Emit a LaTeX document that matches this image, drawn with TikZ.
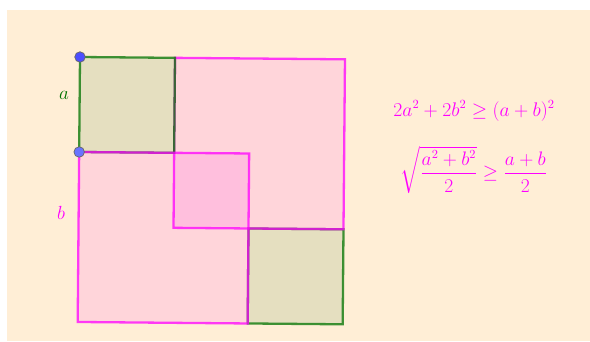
\documentclass[tikz,border=0pt]{standalone}
\usepackage{amsmath}
\usepackage{graphicx}
\definecolor{beige}{RGB}{255,238,214}
\definecolor{ggreen}{RGB}{0,100,0}
\definecolor{lgreen}{RGB}{0,115,0}
\definecolor{ptblue}{RGB}{77,77,255}
\definecolor{ptblueb}{RGB}{105,115,255}
\definecolor{mag}{RGB}{255,0,255}
\begin{document}
\begin{tikzpicture}[x=1pt,y=-1pt,
  pinksq/.style={fill=mag,fill opacity=0.1,draw=mag,draw opacity=0.75,line width=2.3pt},
  greensq/.style={fill=ggreen,fill opacity=0.1,draw=lgreen,draw opacity=0.75,line width=2.3pt},
  dot/.style={circle,fill=ptblue,draw=black!60,line width=0.7pt,inner sep=0pt,minimum size=10.5pt},
  lbl/.style={inner sep=0pt,font=\fontsize{17}{20}\selectfont},
  formula/.style={inner sep=0pt,text=mag,font=\fontsize{16}{19}\selectfont}]
\useasboundingbox (0,0) rectangle (590,341);
\fill[white] (0,0) rectangle (590,341);
\fill[beige] (7,10) rectangle (590,341);
\begin{scope}[shift={(80,57)},rotate=-0.5]
  \coordinate (O) at (0,0);
  \coordinate (A) at (0,95);
  \path[greensq] (170,170) rectangle (265,265);
  \path[pinksq] (95,0) rectangle (265,170);
  \path[greensq] (0,0) rectangle (95,95);
  \path[pinksq] (0,95) rectangle (170,265);
  \node[dot] (P1) at (O) {};
  \node[dot,fill=ptblueb] (P2) at (A) {};
\end{scope}
\node[lbl,text=lgreen] (la) at (64,95) {\scalebox{1.1}{$a$}};
\node[lbl,text=mag] (lb) at (61,213) {\scalebox{1.1}{$b$}};
\node[formula] (f1) at (474,111) {\scalebox{1.14}{$2a^2+2b^2\geq(a+b)^2$}};
\node[formula] (f2) at (474,170) {\scalebox{1.13}{$\sqrt{\dfrac{a^2+b^2}{2}}\geq\dfrac{a+b}{2}$}};
\end{tikzpicture}
\end{document}
